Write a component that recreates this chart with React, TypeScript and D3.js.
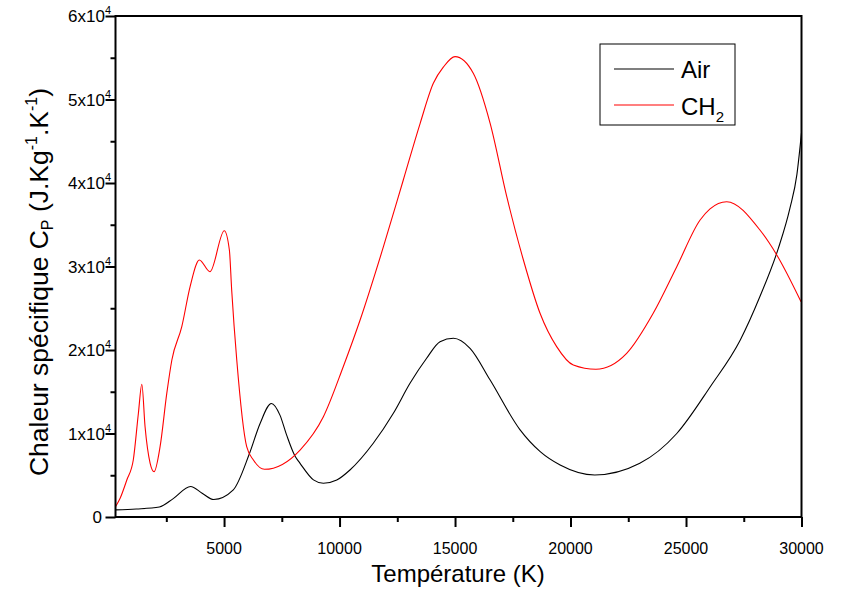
import React from "react";
import * as d3 from "d3";

// values (T in K, Cp in J/kg/K)
const airT = [300, 1200, 2200, 2800, 3550, 4050, 4550, 5400, 6100, 6560, 7050, 7420, 7710, 8070, 8290, 8870, 9300, 9880, 10450, 11460, 12330, 13050, 13770, 14350, 14930, 15650, 16520, 17800, 18700, 19550, 21050, 23000, 24600, 26050, 27350, 28200, 29000, 29500, 29800, 30000];
const airCp = [850, 960, 1200, 2200, 3650, 2850, 2100, 3250, 7600, 11200, 13600, 12200, 9800, 7300, 6430, 4450, 4040, 4430, 5630, 8830, 12420, 16010, 19010, 20990, 21400, 20200, 16400, 10500, 7800, 6230, 5030, 6430, 10000, 15600, 21200, 26400, 32200, 37000, 41000, 46000];

const ch2T = [300, 500, 790, 1070, 1290, 1440, 1580, 1800, 1970, 2230, 2520, 2740, 3170, 3530, 3930, 4390, 5010, 5230, 5330, 5550, 5980, 6270, 6750, 8290, 9300, 10160, 10890, 11900, 12760, 13490, 14060, 14500, 15000, 15790, 16520, 17240, 17960, 18680, 19400, 20120, 21100, 22430, 23580, 24600, 25610, 26040, 26760, 28200, 28930, 29980];
const ch2Cp = [1230, 2240, 4430, 6830, 12400, 15900, 10800, 6430, 5430, 8420, 14800, 18800, 22800, 27600, 30780, 29380, 34290, 31980, 27190, 18800, 8420, 6830, 5710, 8020, 12010, 18000, 23590, 32370, 40360, 47150, 51940, 53900, 55130, 53140, 47150, 38360, 30780, 24400, 20400, 18200, 17690, 19600, 24400, 29980, 35570, 36900, 37760, 34370, 31380, 25780];

const xMajor = [5000, 10000, 15000, 20000, 25000, 30000];
const xMinor = [2500, 7500, 12500, 17500, 22500, 27500];
const yMajor = [0, 10000, 20000, 30000, 40000, 50000, 60000];
const yMinor = [5000, 15000, 25000, 35000, 45000, 55000];

const font = "Arial, 'Liberation Sans', sans-serif";

const App = () => {
  const ref = React.useRef<SVGSVGElement>(null);

  React.useEffect(() => {
    const width = 841;
    const height = 593;
    const left = 115.5, right = 801.5, top = 16, bottom = 517;

    const svg = d3.select(ref.current);
    svg.selectAll("*").remove();
    svg.attr("width", width).attr("height", height);

    const x = d3.scaleLinear().domain([300, 30000]).range([left, right]);
    const y = d3.scaleLinear().domain([0, 60000]).range([bottom, top]);

    const line = d3.line<[number, number]>()
      .x(d => x(d[0]))
      .y(d => y(d[1]))
      .curve(d3.curveMonotoneX);

    const air = airT.map((t, i) => [t, airCp[i]] as [number, number]);
    const ch2 = ch2T.map((t, i) => [t, ch2Cp[i]] as [number, number]);

    svg.append("path").attr("d", line(air)!).attr("fill", "none").attr("stroke", "#000").attr("stroke-width", 1.1);
    svg.append("path").attr("d", line(ch2)!).attr("fill", "none").attr("stroke", "#ff0000").attr("stroke-width", 1.1);

    // axes ticks
    const tickStyle = (g: any) => {
      g.select(".domain").remove();
      g.selectAll(".tick line").attr("stroke", "#000").attr("stroke-width", 2);
    };
    svg.append("g").attr("transform", `translate(0,${bottom})`)
      .call(d3.axisBottom(x).tickValues(xMajor).tickSize(10).tickFormat(() => ""))
      .call(tickStyle);
    svg.append("g").attr("transform", `translate(0,${bottom})`)
      .call(d3.axisBottom(x).tickValues(xMinor).tickSize(5).tickFormat(() => ""))
      .call(tickStyle);
    svg.append("g").attr("transform", `translate(${left},0)`)
      .call(d3.axisLeft(y).tickValues(yMajor).tickSize(10).tickFormat(() => ""))
      .call(tickStyle);
    svg.append("g").attr("transform", `translate(${left},0)`)
      .call(d3.axisLeft(y).tickValues(yMinor).tickSize(5).tickFormat(() => ""))
      .call(tickStyle);

    // frame
    svg.append("rect")
      .attr("x", left).attr("y", top)
      .attr("width", right - left).attr("height", bottom - top)
      .attr("fill", "none").attr("stroke", "#000").attr("stroke-width", 2);

    // x tick labels
    svg.append("g").selectAll("text")
      .data(xMajor)
      .join("text")
      .attr("x", d => x(d))
      .attr("y", bottom + 37)
      .attr("text-anchor", "middle")
      .attr("font-family", font)
      .attr("font-size", 16)
      .text(d => d);

    // y tick labels
    const yl = svg.append("g").selectAll("text")
      .data(yMajor)
      .join("text")
      .attr("x", d => (d === 0 ? 102 : 111))
      .attr("y", d => y(d) + 6)
      .attr("text-anchor", "end")
      .attr("font-family", font)
      .attr("font-size", 17)
      .attr("fill", "#000");
    yl.each(function (d) {
      const t = d3.select(this);
      if (d === 0) { t.text("0"); return; }
      t.append("tspan").text(`${d / 10000}x10`);
      t.append("tspan").attr("font-size", 11).attr("dy", -8).text("4");
    });

    // axis titles
    svg.append("text")
      .attr("x", 458).attr("y", 582)
      .attr("text-anchor", "middle")
      .attr("font-family", font).attr("font-size", 24)
      .text("Température (K)");

    const yt = svg.append("text")
      .attr("transform", "translate(48,282) rotate(-90)")
      .attr("text-anchor", "middle")
      .attr("font-family", font).attr("font-size", 26.5);
    yt.append("tspan").text("Chaleur spécifique C");
    yt.append("tspan").attr("font-size", 16).attr("dy", 5).text("P");
    yt.append("tspan").attr("dy", -5).text(" (J.Kg");
    yt.append("tspan").attr("font-size", 16).attr("dy", -11).text("-1");
    yt.append("tspan").attr("dy", 11).text(".K");
    yt.append("tspan").attr("font-size", 16).attr("dy", -11).text("-1");
    yt.append("tspan").attr("dy", 11).text(")");

    // legend
    const lg = svg.append("g");
    lg.append("rect").attr("x", 600).attr("y", 44).attr("width", 135).attr("height", 81)
      .attr("fill", "#fff").attr("stroke", "#000").attr("stroke-width", 1);
    lg.append("line").attr("x1", 614).attr("x2", 674).attr("y1", 69).attr("y2", 69)
      .attr("stroke", "#000").attr("stroke-width", 1.1);
    lg.append("text").attr("x", 681).attr("y", 78).attr("font-family", font).attr("font-size", 24).text("Air");
    lg.append("line").attr("x1", 614).attr("x2", 674).attr("y1", 105).attr("y2", 105)
      .attr("stroke", "#ff0000").attr("stroke-width", 1.1);
    const ct = lg.append("text").attr("x", 681).attr("y", 115).attr("font-family", font).attr("font-size", 24);
    ct.append("tspan").text("CH");
    ct.append("tspan").attr("font-size", 15).attr("dy", 7).text("2");
  }, []);

  return (
    <svg
      ref={ref}
      style={{ position: "absolute", left: 0, top: 0, background: "#fff" }}
    />
  );
};

export default App;
